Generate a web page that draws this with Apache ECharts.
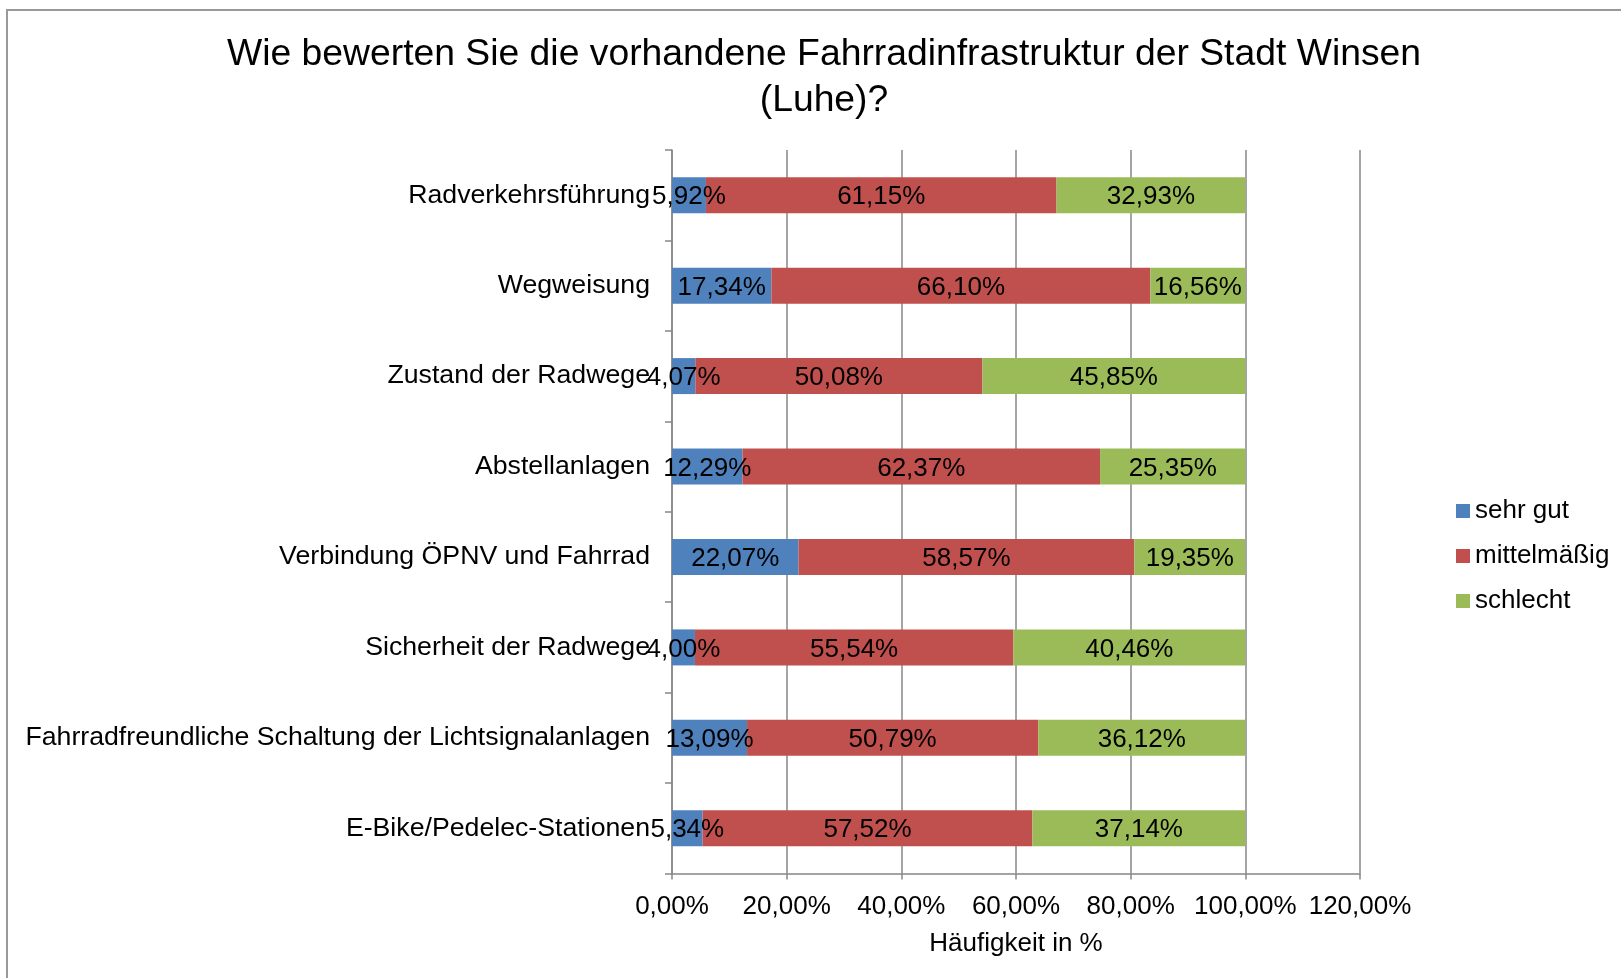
<!DOCTYPE html>
<html>
<head>
<meta charset="utf-8">
<title>Fahrradinfrastruktur Winsen (Luhe)</title>
<script src="https://cdn.jsdelivr.net/npm/echarts@6/dist/echarts.min.js"></script>
<style>
  html, body { margin: 0; padding: 0; background: #fff; }
  #chart { width: 1621px; height: 978px; }
</style>
</head>
<body>
<div id="chart"></div>
<script>
// Kategorien (von oben nach unten)
const categories = [
  'Radverkehrsführung',
  'Wegweisung',
  'Zustand der Radwege',
  'Abstellanlagen',
  'Verbindung ÖPNV und Fahrrad',
  'Sicherheit der Radwege',
  'Fahrradfreundliche Schaltung der Lichtsignalanlagen',
  'E-Bike/Pedelec-Stationen'
]
// Anteile in %
const sehrGut = [5.92, 17.34, 4.07, 12.29, 22.07, 4.00, 13.09, 5.34]
const mittelmaessig = [61.15, 66.10, 50.08, 62.37, 58.57, 55.54, 50.79, 57.52]
const schlecht = [32.93, 16.56, 45.85, 25.35, 19.35, 40.46, 36.12, 37.14]
const seriesNames = ['sehr gut', 'mittelmäßig', 'schlecht']
const axisMax = 120
const axisStep = 20

const fontFamily = '"Liberation Sans", Arial, sans-serif'
const gray = '#878787'

// 12.34 -> "12,34%"
function fmtPct(v) {
  return Number(v).toFixed(2).replace('.', ',') + '%'
}

const chart = echarts.init(document.getElementById('chart'))

function barSeries(name, data, color) {
  return {
    name: name,
    type: 'bar',
    stack: 'total',
    barWidth: 36,
    data: data,
    itemStyle: { color: color },
    label: {
      show: true,
      position: 'inside',
      offset: [0, 2],
      color: '#000',
      fontSize: 26,
      fontFamily: fontFamily,
      formatter: p => fmtPct(p.value)
    }
  }
}

const option = {
  backgroundColor: '#fff',
  textStyle: { fontFamily: fontFamily },
  animation: false,
  title: {
    text: 'Wie bewerten Sie die vorhandene Fahrradinfrastruktur der Stadt Winsen\n(Luhe)?',
    left: 819,
    top: 27,
    textAlign: 'center',
    textStyle: {
      fontSize: 37.3,
      fontWeight: 'normal',
      color: '#000',
      lineHeight: 46,
      fontFamily: fontFamily
    }
  },
  legend: {
    orient: 'vertical',
    left: 1451,
    top: 493,
    itemWidth: 14,
    itemHeight: 14,
    itemGap: 19,
    icon: 'rect',
    data: seriesNames,
    textStyle: { fontSize: 26, color: '#000', fontFamily: fontFamily }
  },
  grid: {
    left: 672,
    top: 150,
    width: 688,
    bottom: 104.5,
    containLabel: false
  },
  xAxis: {
    type: 'value',
    min: 0,
    max: axisMax,
    interval: axisStep,
    name: 'Häufigkeit in %',
    nameLocation: 'middle',
    nameGap: 57,
    nameTextStyle: { fontSize: 26, color: '#000', fontFamily: fontFamily },
    axisLine: { show: true, lineStyle: { color: gray, width: 1.5 } },
    axisTick: { show: true, length: 6, lineStyle: { color: gray, width: 1.5 } },
    axisLabel: {
      fontSize: 26,
      color: '#000',
      margin: 20,
      formatter: v => fmtPct(v)
    },
    splitLine: { show: true, lineStyle: { color: gray, width: 1.5 } }
  },
  yAxis: {
    type: 'category',
    inverse: true,
    data: categories,
    axisLine: { show: true, lineStyle: { color: gray, width: 1.5 } },
    axisTick: { show: true, length: 7, lineStyle: { color: gray, width: 1.5 } },
    axisLabel: { fontSize: 26.7, color: '#000', margin: 22 },
    splitLine: { show: false }
  },
  series: [
    barSeries(seriesNames[0], sehrGut, '#4F81BD'),
    barSeries(seriesNames[1], mittelmaessig, '#C0504D'),
    barSeries(seriesNames[2], schlecht, '#9BBB59')
  ],
  // Rahmen um das Diagramm (läuft rechts und unten aus dem Bild)
  graphic: [
    {
      type: 'rect',
      z: -1,
      shape: { x: 7, y: 10, width: 1700, height: 1100 },
      style: { fill: 'none', stroke: '#999', lineWidth: 2 }
    }
  ]
}

chart.setOption(option)
</script>
</body>
</html>
